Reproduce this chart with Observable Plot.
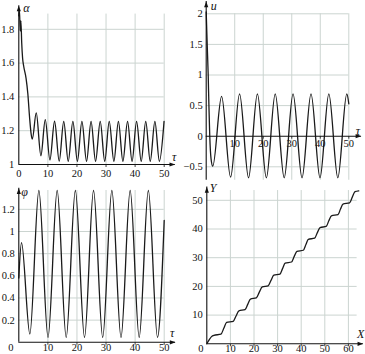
<!DOCTYPE html>
<html><head><meta charset="utf-8">
<script src="https://cdn.jsdelivr.net/npm/d3@7"></script>
<script src="https://cdn.jsdelivr.net/npm/@observablehq/plot@0.6"></script>
<style>
body{margin:0;background:#fff;}
#wrap{position:relative;width:365px;height:354px;overflow:hidden;background:#fff;}
#wrap svg{position:absolute;}
</style></head><body><div id="wrap"></div>
<script>
// ---- data ----
// alpha(tau)
const alphaTau = [0, 0.22, 0.5, 0.72, 1.0, 1.3, 1.7, 2.5, 3.1, 3.7, 4.25, 4.65, 6.0, 7.6, 9.1, 10.7, 12.3, 13.9, 15.45, 17.0, 18.6, 20.15, 21.7, 23.3, 24.85, 26.4, 28.0, 29.55, 31.1, 32.7, 34.25, 35.8, 37.4, 38.95, 40.5, 42.1, 43.65, 45.2, 46.8, 48.35, 49.95];
const alphaVal = [1.88, 1.91, 1.79, 1.85, 1.72, 1.63, 1.58, 1.51, 1.42, 1.28, 1.18, 1.15, 1.305, 1.052, 1.266, 1.027, 1.256, 1.02, 1.255, 1.019, 1.255, 1.019, 1.255, 1.019, 1.255, 1.019, 1.255, 1.019, 1.255, 1.019, 1.255, 1.019, 1.255, 1.019, 1.255, 1.019, 1.255, 1.019, 1.255, 1.019, 1.255];
// u(tau)
const uTau = [0, 0.35, 0.7, 0.95, 1.25, 1.7, 2.3, 5.4, 8.55, 11.7, 14.85, 17.95, 21.1, 24.2, 27.35, 30.45, 33.6, 36.75, 39.9, 43.0, 46.15, 49.3, 50];
const uVal = [2.03, 1.5, 1.0, 0.5, 0.0, -0.37, -0.49, 0.65, -0.67, 0.69, -0.68, 0.69, -0.68, 0.69, -0.68, 0.69, -0.68, 0.69, -0.68, 0.69, -0.68, 0.69, 0.53];
// phi(tau)
const phiTau = [0, 0.93, 3.8, 6.9, 10.05, 13.2, 16.3, 19.45, 22.6, 25.7, 28.85, 32.0, 35.15, 38.3, 41.4, 44.55, 47.7, 50];
const phiVal = [0.58, 0.90, 0.075, 1.37, 0.045, 1.37, 0.045, 1.37, 0.045, 1.37, 0.045, 1.37, 0.045, 1.37, 0.045, 1.37, 0.045, 1.1];
// Y(X)
const pathX = [0, 1.0, 2.0, 3.0, 6.0, 7.2, 8.4, 11.2, 12.4, 13.6, 16.2, 17.35, 18.5, 21.0, 22.25, 23.5, 26.0, 27.2, 28.4, 31.0, 32.1, 33.2, 35.9, 37.05, 38.2, 40.9, 42.0, 43.0, 45.7, 46.85, 48.0, 50.6, 51.7, 52.8, 55.6, 56.65, 57.7, 60.5, 61.65, 62.8, 64.4];
const pathY = [0, 1.4, 2.5, 2.95, 3.35, 5.4, 7.45, 7.85, 9.7, 11.5, 11.9, 13.75, 15.6, 16.0, 18.0, 19.8, 20.2, 22.1, 23.9, 24.3, 26.2, 28.1, 28.5, 30.45, 32.2, 32.6, 34.6, 36.4, 36.8, 38.75, 40.5, 40.9, 42.85, 44.6, 45.0, 46.95, 48.7, 49.1, 51.1, 53.0, 53.3];
// tick labels
const tauLabels = [10, 20, 30, 40, 50];
const alphaLabels = [1, 1.2, 1.4, 1.6, 1.8];
const uLabels = [-0.5, 0, 0.5, 1, 1.5, 2];
const phiLabels = [0.2, 0.4, 0.6, 0.8, 1, 1.2];
const xLabelsXY = [10, 20, 30, 40, 50, 60];
const yLabelsXY = [10, 20, 30, 40, 50];

// ---- drawing ----
const GRID = "#cbd4d0";
const INK = "#111";
const FONT = "Liberation Serif";
const FS = 10.5;
const fmt = d => d < 0 ? "\u2212" + (-d) : String(d);
const zip = (a, b) => a.map((x, i) => ({x, y: b[i]}));

const arrowRight = {draw(c, s) { const r = Math.sqrt(s / Math.PI); c.moveTo(0, 0); c.lineTo(-2.2 * r, -0.8 * r); c.lineTo(-2.2 * r, 0.8 * r); c.closePath(); }};
const arrowUp = {draw(c, s) { const r = Math.sqrt(s / Math.PI); c.moveTo(0, 0); c.lineTo(-0.8 * r, 2.2 * r); c.lineTo(0.8 * r, 2.2 * r); c.closePath(); }};
const tickDown = {draw(c, s) { const r = Math.sqrt(s / Math.PI); c.moveTo(0, 0); c.lineTo(0, r); }};

function panel(o) {
  const T = {fontFamily: FONT, fill: INK};
  const marks = [
    Plot.ruleX(o.gx, {x: d => d, y1: o.gy0, y2: o.gy1, stroke: GRID, strokeWidth: 1}),
    Plot.ruleY(o.gy, {y: d => d, x1: o.gx0, x2: o.gx1, stroke: GRID, strokeWidth: 1}),
    Plot.line(o.data, {x: "x", y: "y", curve: "monotone-x", stroke: "#1a1a1a", strokeWidth: 1.3}),
    Plot.ruleY([o.ax], {y: d => d, x1: o.ax0, x2: o.ax1, stroke: INK, strokeWidth: 1.1}),
    Plot.ruleX([o.ay], {x: d => d, y1: o.ay0, y2: o.ay1, stroke: INK, strokeWidth: 1.1}),
    Plot.dot([0], {x: () => o.ax1, y: () => o.ax, symbol: arrowRight, r: 2.6, fill: INK, stroke: "none"}),
    Plot.dot([0], {x: () => o.ay, y: () => o.ay1, symbol: arrowUp, r: 2.6, fill: INK, stroke: "none"}),
    Plot.dot(o.gx, {x: d => d, y: () => o.ax, symbol: tickDown, r: 2.5, fill: "none", stroke: INK, strokeWidth: 0.8}),
    Plot.text(o.xl, {x: d => d, y: () => o.ax, text: fmt, dy: o.xdy, fontSize: FS, ...T}),
    Plot.text(o.yl, {x: () => o.ay, y: d => d, text: fmt, dx: o.ydx, textAnchor: "end", fontSize: FS, ...T}),
    Plot.text([o.yName], {x: () => o.ay, y: () => o.ay1, text: d => d, dx: o.yNdx, dy: o.yNdy, textAnchor: "start", fontStyle: "italic", fontSize: 12, ...T}),
    Plot.text([o.xName], {x: () => o.ax1, y: () => o.ax, text: d => d, dx: o.xNdx, dy: o.xNdy, fontStyle: "italic", fontSize: 12, ...T})
  ];
  if (o.origin) marks.push(Plot.text(["0"], {x: () => 0, y: () => o.ax, text: d => d, dx: o.origin[0], dy: o.origin[1], fontSize: FS, ...T}));
  const svg = Plot.plot({
    width: o.w, height: o.h,
    margin: 0,
    x: {domain: o.xd, range: o.xr, axis: null},
    y: {domain: o.yd, range: o.yr, axis: null},
    style: {background: "transparent", fontFamily: FONT, overflow: "hidden"},
    marks
  });
  svg.style.left = o.left + "px";
  svg.style.top = o.top + "px";
  document.getElementById("wrap").appendChild(svg);
}

// alpha
panel({left: 0, top: 0, w: 180, h: 180,
  xd: [0, 50], xr: [18.3, 163.7], yd: [1, 1.8], yr: [164, 28.8],
  gx: tauLabels, gy0: 1, gy1: 1.89, gy: alphaLabels.slice(1), gx0: 0, gx1: 50,
  ax: 1, ax0: 0, ax1: 53.8, ay: 0, ay0: 1, ay1: 1.94,
  xl: [0, ...tauLabels], xdy: 9.5, yl: alphaLabels, ydx: -4.5,
  yName: "α", yNdx: 4.5, yNdy: 2.5, xName: "τ", xNdx: -1, xNdy: -7.5,
  data: zip(alphaTau, alphaVal)});

// u
panel({left: 180, top: 0, w: 185, h: 180,
  xd: [0, 50], xr: [25.7, 168.3], yd: [0, 2], yr: [135.7, 13.3],
  gx: tauLabels, gy0: -0.72, gy1: 2, gy: uLabels.filter(d => d !== 0), gx0: 0, gx1: 50,
  ax: 0, ax0: 0, ax1: 54.4, ay: 0, ay0: -0.72, ay1: 2.2,
  xl: tauLabels, xdy: 7, yl: uLabels, ydx: -3.5,
  yName: "u", yNdx: 4.5, yNdy: 4.5, xName: "τ", xNdx: -3.5, xNdy: -5.5,
  data: zip(uTau, uVal)});

// phi
panel({left: 0, top: 180, w: 180, h: 174,
  xd: [0, 50], xr: [18.3, 163.7], yd: [0, 1.2], yr: [161.8, 28.84],
  gx: tauLabels, gy0: 0, gy1: 1.37, gy: phiLabels, gx0: 0, gx1: 50,
  ax: 0, ax0: 0, ax1: 53.9, ay: 0, ay0: 0, ay1: 1.39,
  xl: tauLabels, xdy: 5.5, yl: phiLabels, ydx: -4, origin: [-8, 5.5],
  yName: "φ", yNdx: 2.5, yNdy: 4, xName: "τ", xNdx: -3.3, xNdy: -9,
  data: zip(phiTau, phiVal)});

// Y(X)
panel({left: 180, top: 180, w: 185, h: 174,
  xd: [0, 60], xr: [26.3, 167.9], yd: [0, 50], yr: [163.3, 19.8],
  gx: xLabelsXY, gy0: 0, gy1: 53.4, gy: yLabelsXY, gx0: 0, gx1: 63.7,
  ax: 0, ax0: 0, ax1: 66.3, ay: 0, ay0: 0, ay1: 54.6,
  xl: xLabelsXY, xdy: 5, yl: yLabelsXY, ydx: -4, origin: [-6, 5],
  yName: "Y", yNdx: 3, yNdy: 1, xName: "X", xNdx: -2.7, xNdy: -9.3,
  data: zip(pathX, pathY)});
</script>
</body></html>
